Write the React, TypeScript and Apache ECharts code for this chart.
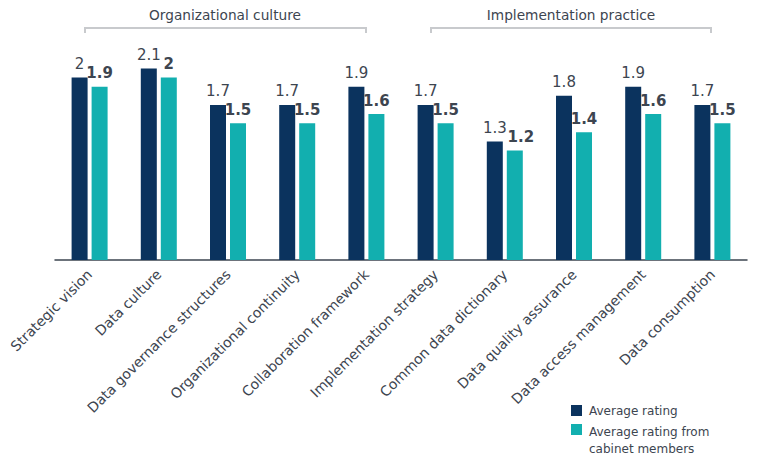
import React, { useEffect, useRef } from "react";
import * as echarts from "echarts";

const categories = [
  "Strategic vision",
  "Data culture",
  "Data governance structures",
  "Organizational continuity",
  "Collaboration framework",
  "Implementation strategy",
  "Common data dictionary",
  "Data quality assurance",
  "Data access management",
  "Data consumption",
];
const averageRating = [2, 2.1, 1.7, 1.7, 1.9, 1.7, 1.3, 1.8, 1.9, 1.7];
const cabinetRating = [1.9, 2, 1.5, 1.5, 1.6, 1.5, 1.2, 1.4, 1.6, 1.5];
const seriesNames = ["Average rating", "Average rating from\ncabinet members"];
const groupTitles = ["Organizational culture", "Implementation practice"];

const FONT = "Verdana, 'DejaVu Sans', sans-serif";
const TEXT = "#3d4550";
const NAVY = "#0b335e";
const TEAL = "#12afaf";
const BRACKET = "#c8cacd";

export default function App() {
  const ref = useRef<HTMLDivElement>(null);
  useEffect(() => {
    if (!ref.current) return;
    const chart = echarts.init(ref.current, null, { renderer: "svg" });
    const bracket = (x1: number, x2: number, y: number) => ({
      type: "polyline",
      shape: { points: [[x1, y + 5], [x1, y], [x2, y], [x2, y + 5]] },
      style: { stroke: BRACKET, lineWidth: 2, fill: null },
    });
    const cabinetData = cabinetRating.map((v, i) =>
      i === 6 ? { value: v, label: { offset: [6, 0] } } : v
    );
    chart.setOption({
      animation: false,
      grid: { left: 55, right: 14, top: 32, bottom: 194, containLabel: false },
      xAxis: {
        type: "category",
        data: categories,
        axisLine: { lineStyle: { color: TEXT, width: 1.5 } },
        axisTick: { show: false },
        axisLabel: {
          rotate: 45,
          interval: 0,
          margin: 12,
          color: TEXT,
          fontFamily: FONT,
          fontSize: 14,
        },
      },
      yAxis: {
        type: "value",
        min: 0,
        max: 2.5,
        show: false,
        splitLine: { show: false },
      },
      series: [
        {
          name: seriesNames[0],
          type: "bar",
          data: averageRating,
          barWidth: 16,
          barGap: "25%",
          itemStyle: { color: NAVY },
          label: {
            show: true,
            position: "top",
            distance: 6,
            color: TEXT,
            fontFamily: FONT,
            fontSize: 15,
          },
        },
        {
          name: seriesNames[1],
          type: "bar",
          data: cabinetData,
          barWidth: 16,
          itemStyle: { color: TEAL },
          label: {
            show: true,
            position: "top",
            distance: 6,
            color: TEXT,
            fontFamily: FONT,
            fontSize: 15,
            fontWeight: "bold",
          },
        },
      ],
      graphic: [
        {
          type: "text",
          x: 225,
          y: 15,
          style: {
            text: groupTitles[0],
            fill: TEXT,
            font: `13.7px ${FONT}`,
            align: "center",
            verticalAlign: "middle",
          },
        },
        bracket(85, 366, 28),
        {
          type: "text",
          x: 571,
          y: 15,
          style: {
            text: groupTitles[1],
            fill: TEXT,
            font: `13.7px ${FONT}`,
            align: "center",
            verticalAlign: "middle",
          },
        },
        bracket(431, 711, 28),
        { type: "rect", shape: { x: 571, y: 405, width: 11, height: 11 }, style: { fill: NAVY } },
        {
          type: "text",
          x: 589,
          y: 410.5,
          style: { text: seriesNames[0], fill: TEXT, font: `12px ${FONT}`, verticalAlign: "middle" },
        },
        { type: "rect", shape: { x: 571, y: 424, width: 11, height: 11 }, style: { fill: TEAL } },
        {
          type: "text",
          x: 589,
          y: 423,
          style: {
            text: seriesNames[1],
            fill: TEXT,
            font: `12px ${FONT}`,
            verticalAlign: "top",
            lineHeight: 17,
          },
        },
      ],
    });
    return () => chart.dispose();
  }, []);
  return <div ref={ref} style={{ width: 761, height: 454, position: "absolute", left: 0, top: 0 }} />;
}
